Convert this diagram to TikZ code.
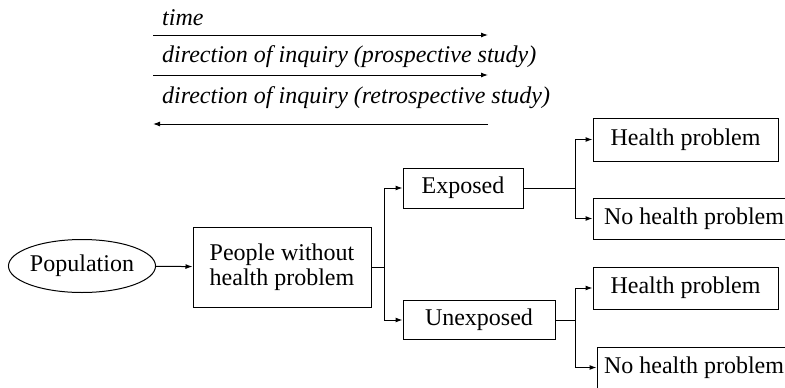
\documentclass[tikz,border=0pt]{standalone}
\usepackage{fontspec}
\setmainfont{Liberation Serif}
\usetikzlibrary{shapes.geometric, arrows.meta}

\tikzset{
  txt/.style={font=\fontsize{24}{25}\selectfont},
  box/.style={txt, draw, rectangle, line width=1pt, inner sep=0pt},
  oval/.style={txt, draw, ellipse, line width=1pt, inner sep=0pt},
  lbl/.style={anchor=base west, inner sep=0pt, font=\fontsize{24}{25}\selectfont\itshape},
  arr/.style={line width=1pt, -{Latex[length=7pt,width=5pt]}},
  ln/.style={line width=1pt}
}

\begin{document}
\begin{tikzpicture}[x=1pt, y=-1pt]
        \useasboundingbox (0,0) rectangle (785,388);

        % time / direction of inquiry
        \node[lbl] (time) at (162,25) {time};
        \node[lbl] (pros) at (162,62) {direction of inquiry (prospective study)};
        \node[lbl] (retro) at (162,103) {direction of inquiry (retrospective study)};

        \coordinate (timeL) at (153,35);
        \coordinate (timeR) at (488,35);
        \coordinate (prosL) at (153,75);
        \coordinate (prosR) at (488,75);
        \coordinate (retroL) at (153,124);
        \coordinate (retroR) at (488,124);

        \draw[arr] (timeL) -- (timeR);
        \draw[arr] (prosL) -- (prosR);
        \draw[arr] (retroR) -- (retroL);

        % tree
        \node[oval, minimum width=144, minimum height=53] (pop) at (82,266) {Population};
        \node[box, minimum width=178, minimum height=80, align=center] (ppl) at (282,267) {People without\\health problem};

        \node[box, minimum width=120, minimum height=40] (exp) at (463,188) {Exposed};
        \node[box, minimum width=152, minimum height=39] (unexp) at (479,320) {Unexposed};

        \node[box, minimum width=185, minimum height=43] (hp1) at (685.5,139.5) {Health problem};
        \node[box, minimum width=202, minimum height=41] (nhp1) at (694,218.5) {No health problem};
        \node[box, minimum width=185, minimum height=42] (hp2) at (685.5,288) {Health problem};
        \node[box, minimum width=194, minimum height=41] (nhp2) at (694,367.5) {No health problem};

        \coordinate (j1) at (384,267);
        \coordinate (j2) at (575,188);
        \coordinate (j3) at (575,320);

        \draw[arr] (pop) -- (ppl);
        \draw[ln] (ppl.east) -- (j1);
        \draw[arr] (j1) |- (exp);
        \draw[arr] (j1) |- (unexp);

        \draw[ln] (exp) -- (j2);
        \draw[arr] (j2) |- (hp1);
        \draw[arr] (j2) |- (nhp1);

        \draw[ln] (unexp) -- (j3);
        \draw[arr] (j3) |- (hp2);
        \draw[arr] (j3) |- (nhp2);
    \end{tikzpicture}
\end{document}
